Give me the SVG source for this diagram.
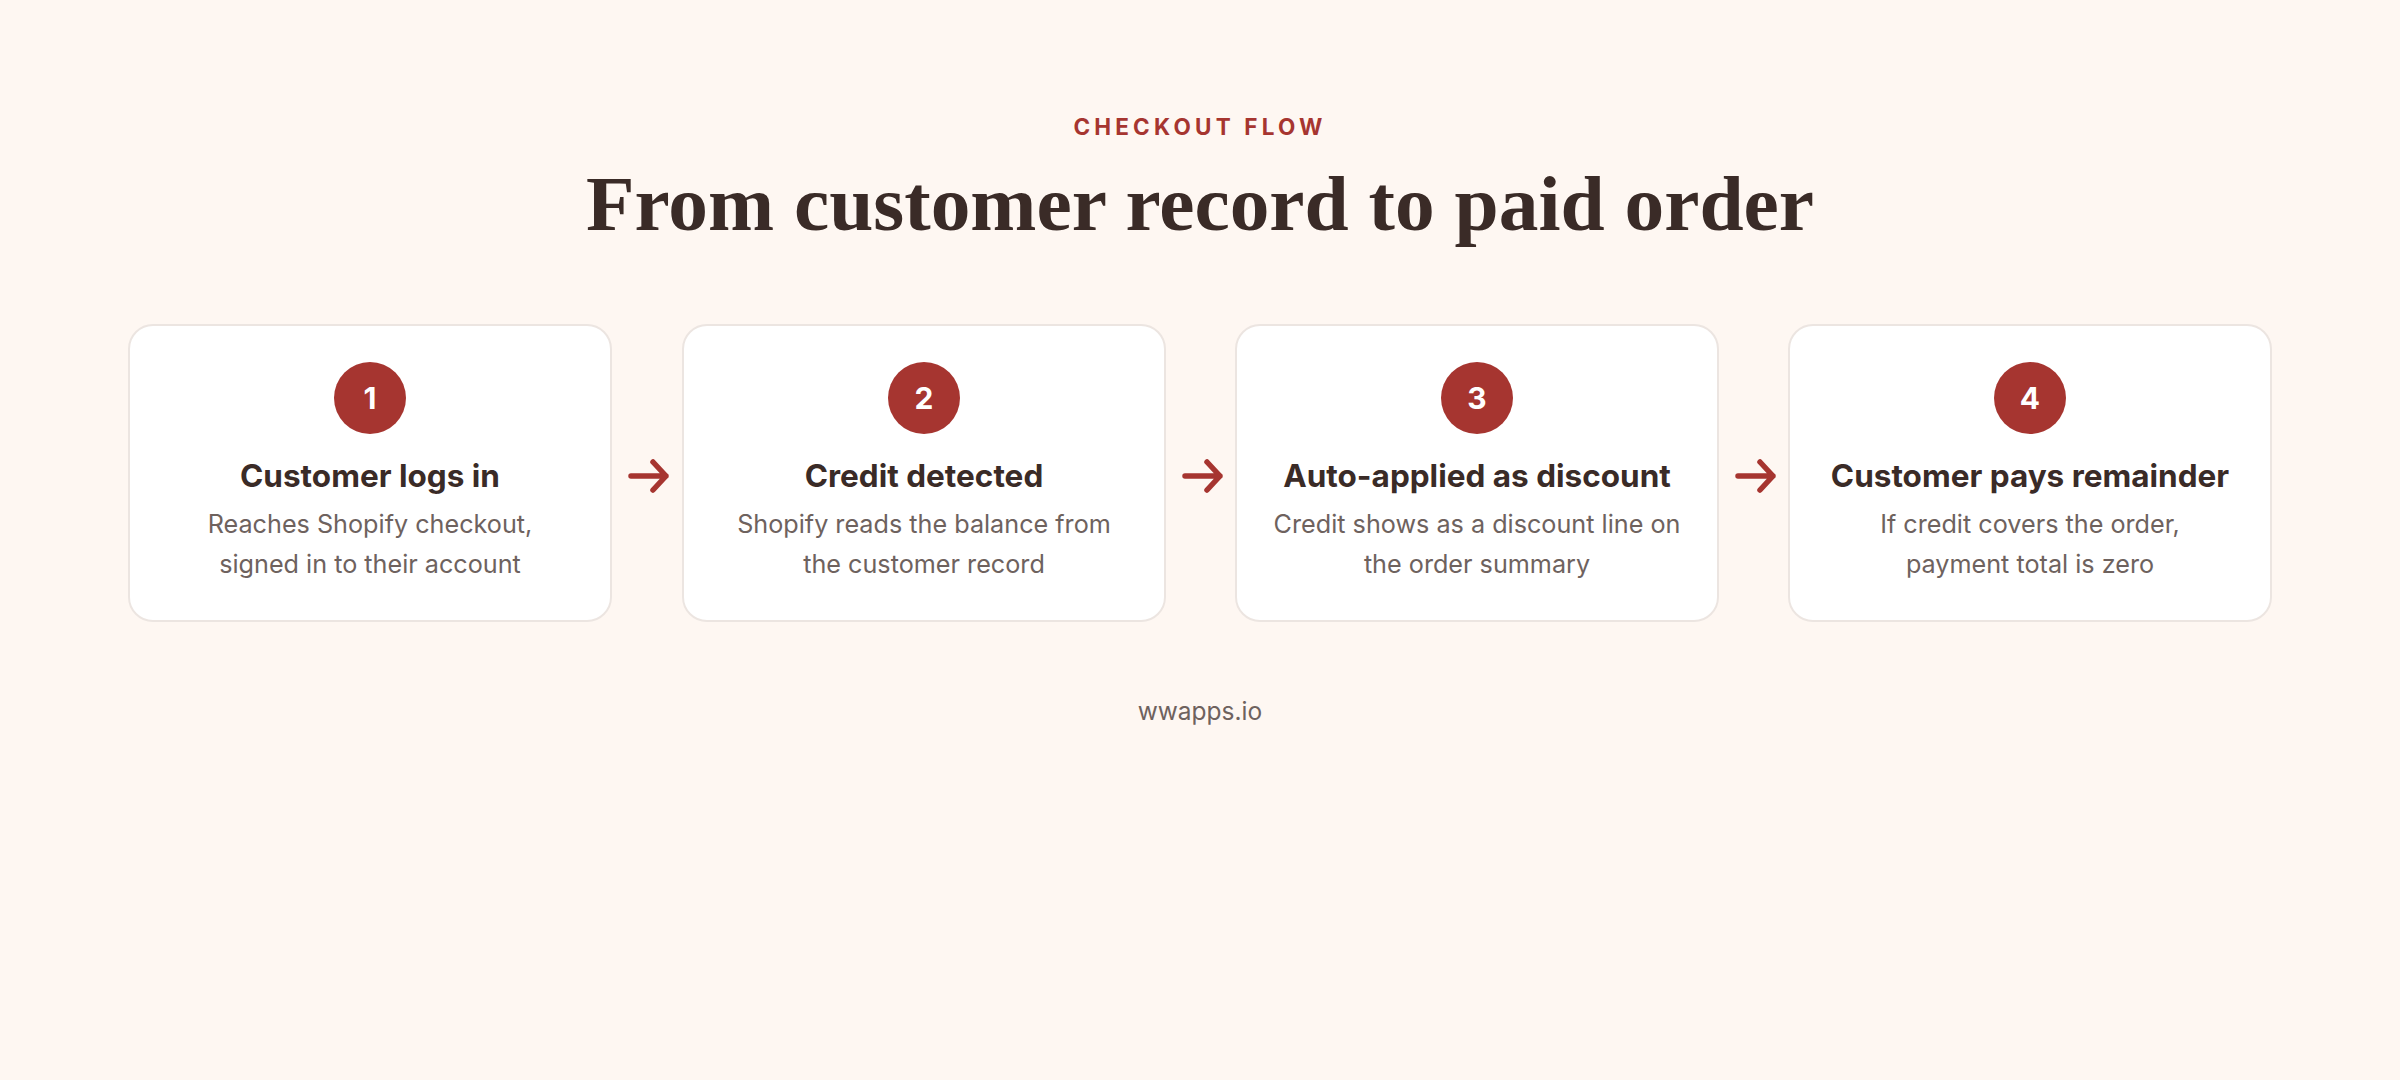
<svg xmlns="http://www.w3.org/2000/svg" width="2400" height="1080" viewBox="0 0 2400 1080">
<style>
.bg{fill:#fef7f2}
.card{fill:#ffffff;stroke:#ece5e1;stroke-width:2}
.num{fill:#a63530}
.numt{font-family:Inter,"Liberation Sans",sans-serif;font-weight:700;font-size:30px;fill:#ffffff;text-anchor:middle}
.ttl{font-family:Inter,"Liberation Sans",sans-serif;font-weight:700;font-size:31.5px;fill:#3a2b27;text-anchor:middle}
.desc{font-family:Inter,"Liberation Sans",sans-serif;font-weight:400;font-size:25.2px;fill:#6e625e;text-anchor:middle}
.arr{fill:none;stroke:#a63530;stroke-width:5.5;stroke-linecap:round;stroke-linejoin:round}
</style>
<rect class="bg" x="0" y="0" width="2400" height="1080"/>
<text x="1200" y="135" font-family="Inter,'Liberation Sans',sans-serif" font-weight="700" font-size="22.5" letter-spacing="4.2" fill="#a63530" text-anchor="middle">CHECKOUT FLOW</text>
<text x="1200" y="230" font-family="'Liberation Serif',serif" font-weight="700" font-size="79" fill="#3a2b27" text-anchor="middle" textLength="1228" lengthAdjust="spacingAndGlyphs">From customer record to paid order</text>
<g id="connectors">
<path class="arr" d="M631 476 H666 M653 462 L666 476 L653 490"/>
<path class="arr" d="M1185 476 H1220 M1207 462 L1220 476 L1207 490"/>
<path class="arr" d="M1738 476 H1773 M1760 462 L1773 476 L1760 490"/>
</g>
<g id="step1">
<rect class="card" x="129" y="325" width="482" height="296" rx="24"/>
<circle class="num" cx="370" cy="398" r="36"/>
<text class="numt" x="370" y="409">1</text>
<text class="ttl" x="370" y="487">Customer logs in</text>
<text class="desc" x="370" y="533">Reaches Shopify checkout,</text>
<text class="desc" x="370" y="573">signed in to their account</text>
</g>
<g id="step2">
<rect class="card" x="683" y="325" width="482" height="296" rx="24"/>
<circle class="num" cx="924" cy="398" r="36"/>
<text class="numt" x="924" y="409">2</text>
<text class="ttl" x="924" y="487">Credit detected</text>
<text class="desc" x="924" y="533">Shopify reads the balance from</text>
<text class="desc" x="924" y="573">the customer record</text>
</g>
<g id="step3">
<rect class="card" x="1236" y="325" width="482" height="296" rx="24"/>
<circle class="num" cx="1477" cy="398" r="36"/>
<text class="numt" x="1477" y="409">3</text>
<text class="ttl" x="1477" y="487">Auto-applied as discount</text>
<text class="desc" x="1477" y="533">Credit shows as a discount line on</text>
<text class="desc" x="1477" y="573">the order summary</text>
</g>
<g id="step4">
<rect class="card" x="1789" y="325" width="482" height="296" rx="24"/>
<circle class="num" cx="2030" cy="398" r="36"/>
<text class="numt" x="2030" y="409">4</text>
<text class="ttl" x="2030" y="487">Customer pays remainder</text>
<text class="desc" x="2030" y="533">If credit covers the order,</text>
<text class="desc" x="2030" y="573">payment total is zero</text>
</g>
<text x="1200" y="720" font-family="Inter,'Liberation Sans',sans-serif" font-size="24.5" fill="#6e625e" text-anchor="middle">wwapps.io</text>
</svg>
